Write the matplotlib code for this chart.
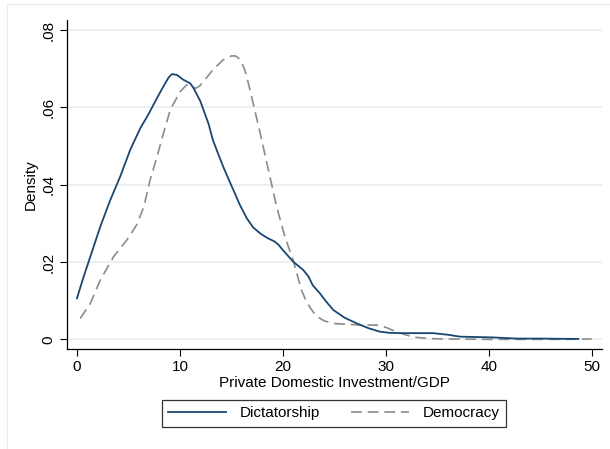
import matplotlib
matplotlib.use("Agg")
import matplotlib.pyplot as plt
from matplotlib.lines import Line2D

plt.rcParams['font.family'] = ['Liberation Sans', 'DejaVu Sans']

# kernel density curves
dict_x = [0, 0.6, 1.3, 2.26, 3.23, 4.2, 5.17, 6.15, 6.9, 7.6, 8.1, 8.57, 8.9, 9.22,
          9.7, 10.3, 11.0, 11.3, 11.6, 12.0, 12.3, 12.8, 13.2, 13.7, 14.2, 14.7,
          15.2, 15.8, 16.5, 17.1, 17.8, 18.5, 19.2, 19.6, 20.0, 20.5, 21.0, 21.5,
          22.0, 22.5, 22.9, 23.6, 24.2, 24.9, 26.0, 27.2, 28.3, 29.4, 30.3, 31.4,
          33.0, 34.6, 36.0, 37.2, 40.4, 42.7, 45.0, 48.7]
dict_y = [0.0106, 0.0158, 0.0214, 0.0291, 0.0360, 0.0421, 0.0490, 0.0546, 0.0580,
          0.0615, 0.0640, 0.0662, 0.0677, 0.0686, 0.0684, 0.0672, 0.0662, 0.0651,
          0.0636, 0.0615, 0.0593, 0.0556, 0.0516, 0.0481, 0.0447, 0.0416, 0.0386,
          0.0349, 0.0313, 0.0290, 0.0274, 0.0262, 0.0253, 0.0244, 0.0231, 0.0216,
          0.0201, 0.0190, 0.0179, 0.0162, 0.0140, 0.0119, 0.0098, 0.0076, 0.0056,
          0.0041, 0.0029, 0.0020, 0.0017, 0.0016, 0.0016, 0.0016, 0.0012, 0.0007,
          0.0005, 0.0002, 0.0002, 0.0001]

demo_x = [0.32, 1.3, 2.26, 3.56, 4.85, 5.8, 6.5, 7.1, 7.77, 8.4, 9.06, 9.7, 10.0,
          10.65, 11.1, 11.5, 11.9, 12.3, 13.2, 14.2, 15.0, 15.4, 15.7, 16.0, 16.3,
          16.6, 16.96, 17.8, 18.6, 19.4, 20.2, 21.0, 21.8, 22.2, 22.6, 23.0, 23.4,
          24.0, 24.9, 27.5, 29.1, 30.0, 31.0, 32.0, 33.0, 34.2, 35.6, 40.0, 47.5, 50.0]
demo_y = [0.0054, 0.0093, 0.0153, 0.0214, 0.0257, 0.0296, 0.0343, 0.0412, 0.0472,
          0.0533, 0.0593, 0.0625, 0.0640, 0.0658, 0.0655, 0.0649, 0.0655, 0.0667,
          0.0697, 0.0723, 0.0733, 0.0733, 0.0727, 0.0715, 0.0697, 0.0668, 0.0628,
          0.0533, 0.0438, 0.0343, 0.0265, 0.0205, 0.0128, 0.0103, 0.0084, 0.0069,
          0.0058, 0.0048, 0.0041, 0.0037, 0.0037, 0.0031, 0.0020, 0.0011, 0.0005,
          0.0002, 0.0001, 0.0000, 0.0000, 0.0001]

xticks = [0, 10, 20, 30, 40, 50]
yticks = [0, 0.02, 0.04, 0.06, 0.08]
ytick_labels = ['0', '.02', '.04', '.06', '.08']

navy = '#1a476f'
gray = '#8c8c8c'

fig = plt.figure(figsize=(6.1, 4.49), dpi=100)
ax = fig.add_axes([0.1098, 0.2227, 0.877, 0.7328])

for y in yticks:
    ax.axhline(y, color='#e6eef1', lw=1.2, zorder=0)

ax.plot(dict_x, dict_y, color=navy, lw=1.3, label='Dictatorship', zorder=3,
        solid_joinstyle='round')
ax.plot(demo_x, demo_y, color=gray, lw=1.2, dashes=(6.5, 3.5), label='Democracy', zorder=2)

ax.set_xlim(-0.97, 51)
ax.set_ylim(-0.0025, 0.0826)
ax.set_xticks(xticks)
ax.set_yticks(yticks)
ax.set_yticklabels(ytick_labels, rotation=90, va='center')
ax.tick_params(direction='out', length=5, width=0.8, labelsize=11, pad=3)

for s in ['top', 'right']:
    ax.spines[s].set_visible(False)
for s in ['left', 'bottom']:
    ax.spines[s].set_linewidth(0.9)

ax.set_xlabel('Private Domestic Investment/GDP', fontsize=11, labelpad=1)
ax.set_ylabel('Density', fontsize=11, labelpad=3)

handles = [Line2D([], [], color=navy, lw=1.3),
           Line2D([], [], color=gray, lw=1.2, dashes=(6.5, 3.5))]
leg = fig.legend(handles, ['Dictatorship', 'Democracy'], ncol=2,
                 loc='center', bbox_to_anchor=(334 / 610, 1 - 413.5 / 449),
                 frameon=True, fancybox=False, edgecolor='black',
                 fontsize=11, handlelength=3.8, columnspacing=2.0,
                 borderpad=0.4, handletextpad=0.9)
leg.get_frame().set_linewidth(0.9)

# light outer frame of the graph region
fig.add_artist(Line2D([6.5 / 610, 6.5 / 610], [0, 1 - 4 / 449], color='#e6eef0', lw=1.0))
fig.add_artist(Line2D([6.5 / 610, 1], [1 - 4 / 449, 1 - 4 / 449], color='#e6eef0', lw=1.0))

fig.savefig('out.png', dpi=100)
